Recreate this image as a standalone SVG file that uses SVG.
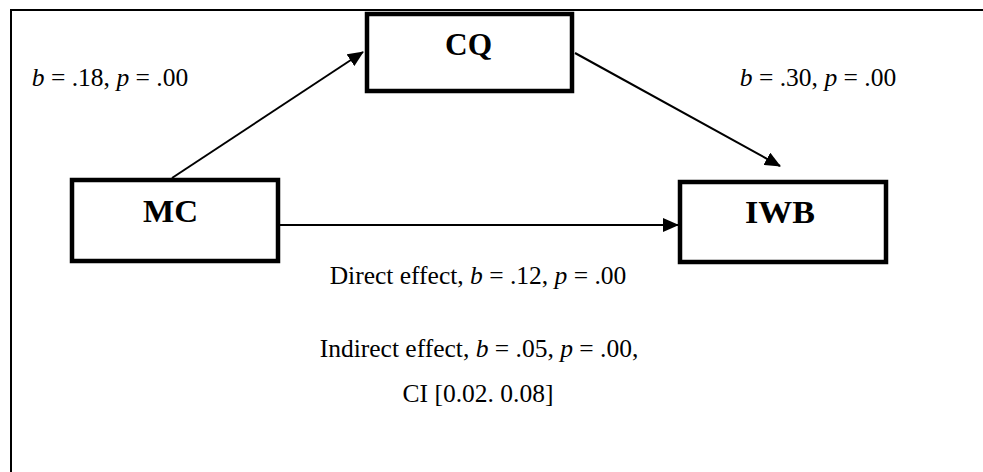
<svg xmlns="http://www.w3.org/2000/svg" width="983" height="472" viewBox="0 0 983 472">
  <style>
    .box { fill: #fff; stroke: #000; stroke-width: 4.5; }
    .frame { fill: none; stroke: #000; stroke-width: 2; }
    .edge { fill: none; stroke: #000; stroke-width: 2; }
    .node-label { font-family: "Liberation Serif", "Times New Roman", serif; font-size: 32px; font-weight: bold; fill: #000; }
    .coef { font-family: "Liberation Serif", "Times New Roman", serif; font-size: 25.5px; fill: #000; text-anchor: middle; }
    .coef tspan.i { font-style: italic; }
  </style>
  <defs>
    <marker id="arrowhead" markerUnits="userSpaceOnUse" markerWidth="16" markerHeight="14" refX="15" refY="7" orient="auto">
      <path d="M0,0 L16,7 L0,14 Z" fill="#000"/>
    </marker>
  </defs>

  <rect width="983" height="472" fill="#fff"/>

  <!-- open frame: top and left rules -->
  <path class="frame" d="M11,472 V10 H983"/>

  <g id="connectors">
    <line class="edge" x1="172" y1="178" x2="363" y2="52" marker-end="url(#arrowhead)"/>
    <line class="edge" x1="575" y1="53" x2="780" y2="166" marker-end="url(#arrowhead)"/>
    <line class="edge" x1="280" y1="225" x2="678" y2="225" marker-end="url(#arrowhead)"/>
  </g>

  <g id="node-cq">
    <rect class="box" x="367" y="14" width="205" height="77"/>
    <text class="node-label" x="445" y="55" textLength="47" lengthAdjust="spacingAndGlyphs">CQ</text>
  </g>

  <g id="node-mc">
    <rect class="box" x="72" y="180" width="206" height="81"/>
    <text class="node-label" x="143" y="222" textLength="55" lengthAdjust="spacingAndGlyphs">MC</text>
  </g>

  <g id="node-iwb">
    <rect class="box" x="680" y="182" width="206" height="80"/>
    <text class="node-label" x="745" y="223" textLength="70" lengthAdjust="spacingAndGlyphs">IWB</text>
  </g>

  <g id="labels">
    <text class="coef" x="110" y="86"><tspan class="i">b</tspan> = .18, <tspan class="i">p</tspan> = .00</text>
    <text class="coef" x="818" y="86"><tspan class="i">b</tspan> = .30, <tspan class="i">p</tspan> = .00</text>
    <text class="coef" x="478" y="284">Direct effect, <tspan class="i">b</tspan> = .12, <tspan class="i">p</tspan> = .00</text>
    <text class="coef" x="479" y="357">Indirect effect, <tspan class="i">b</tspan> = .05, <tspan class="i">p</tspan> = .00,</text>
    <text class="coef" x="478" y="402">CI [0.02. 0.08]</text>
  </g>
</svg>
